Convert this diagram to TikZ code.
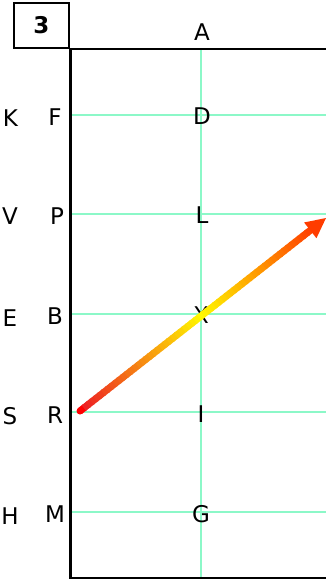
\documentclass[tikz,border=0pt]{standalone}
\usepackage{fontspec}
\setmainfont{DejaVu Sans}
\usetikzlibrary{calc}
\definecolor{gridc}{RGB}{140,248,200}
\definecolor{tipc}{RGB}{255,60,0}
\begin{document}
\begin{tikzpicture}[x=1pt,y=-1pt,
  lbl/.style={inner sep=0pt,font=\fontsize{23}{23}\selectfont},
  gridline/.style={draw=gridc,line width=1.2pt},
  frame/.style={draw=black,line width=2.8pt},
  numbox/.style={draw=black,line width=1.8pt,minimum width=55pt,minimum height=45pt,inner sep=0pt,font=\fontsize{23}{23}\selectfont\bfseries}]
\useasboundingbox (0,0) rectangle (326,580);
% grid
\coordinate (vt) at (201,48);
\coordinate (vb) at (201,578);
\draw[gridline] (vt) -- (vb);
\foreach \yy/\nm in {115/g1,214/g2,314/g3,412/g4,512/g5}{
  \coordinate (\nm l) at (70,\yy);
  \coordinate (\nm r) at (326,\yy);
  \draw[gridline] (\nm l) -- (\nm r);
}
% frame
\coordinate (ftr) at (326,49);
\coordinate (ftl) at (70.5,49);
\coordinate (fbl) at (70.5,578);
\coordinate (fbr) at (326,578);
\draw[frame] (ftr) -- (ftl) -- (fbl) -- (fbr);
% number box
\node[numbox] (nb) at (41.5,25.5) {3};
% labels
\node[lbl] (A) at (202,32.5) {A};
\node[lbl] (D) at (202,116) {D};
\node[lbl] (L) at (202,215.5) {L};
\node[lbl] (X) at (201,315) {X};
\node[lbl] (I) at (201,414) {I};
\node[lbl] (G) at (201,514.5) {G};
\node[lbl] (F) at (55,117.5) {F};
\node[lbl] (P) at (57,216) {P};
\node[lbl] (B) at (55,316.5) {B};
\node[lbl] (R) at (55,415) {R};
\node[lbl] (M) at (55,514.5) {M};
\node[lbl] (K) at (10.5,118) {K};
\node[lbl] (V) at (10,216.5) {V};
\node[lbl] (E) at (10,318) {E};
\node[lbl] (S) at (10,416) {S};
\node[lbl] (H) at (10,516) {H};
% gradient arrow
\coordinate (s) at (80,411);
\coordinate (e) at (326,218);
\coordinate (hb) at ($(e)!20pt!(s)$);
\fill[red] (s) circle (3.5pt);
\foreach \i in {0,...,59}{
  \pgfmathsetmacro{\ta}{\i/60}
  \pgfmathsetmacro{\tb}{(\i+1.3)/60}
  \ifnum\i<30
    \pgfmathtruncatemacro{\p}{100*\i/30}
    \colorlet{segc}{yellow!\p!red}
  \else
    \pgfmathtruncatemacro{\p}{100*(\i-30)/30}
    \colorlet{segc}{tipc!\p!yellow}
  \fi
  \draw[segc,line width=7pt] ($(s)!\ta!(hb)$) -- ($(s)!\tb!(hb)$);
}
\fill[tipc] (e) -- ($(hb)!10pt!90:(e)$) -- ($(hb)!10pt!-90:(e)$) -- cycle;
\end{tikzpicture}
\end{document}
